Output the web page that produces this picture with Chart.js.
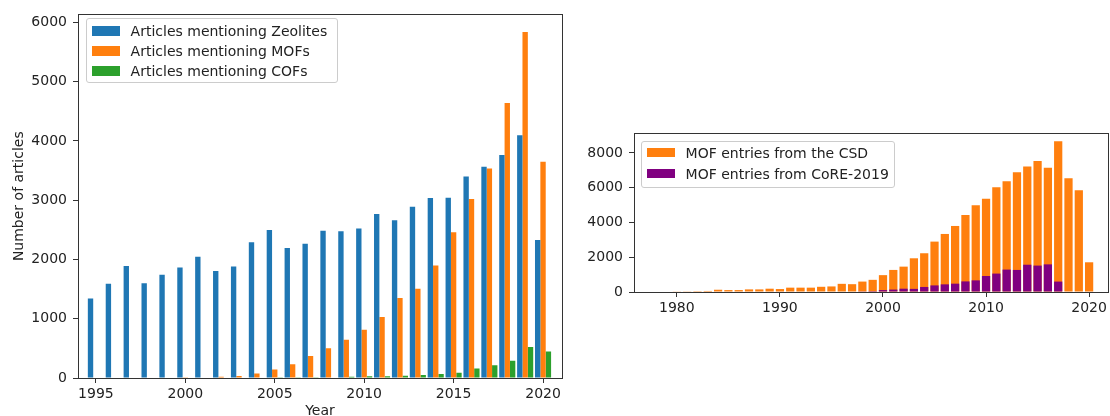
<!DOCTYPE html>
<html><head><meta charset="utf-8">
<script src="https://cdn.jsdelivr.net/npm/chart.js@4.4.1/dist/chart.umd.min.js"></script>
<style>
html,body{margin:0;padding:0;background:#fff;overflow:hidden;width:1110px;height:416px;}
#c1{position:absolute;left:0;top:0;}
#c2{position:absolute;left:580px;top:100px;}
.legend{position:absolute;background:rgba(255,255,255,0.8);border:1px solid #cccccc;border-radius:3px;font-family:"DejaVu Sans";font-size:14px;color:#222;box-sizing:border-box;padding-left:4.6px;}
.legend .row{display:flex;align-items:center;white-space:nowrap;}
.legend .patch{display:inline-block;width:28px;height:9.5px;margin-right:11px;flex:none;}
</style></head>
<body>
<canvas id="c1" width="580" height="424"></canvas>
<canvas id="c2" width="530" height="230"></canvas>
<div id="leg1" class="legend" style="left:86px;top:18px;width:252px;height:65px;padding-top:2px;"></div>
<div id="leg2" class="legend" style="left:641px;top:141px;width:254px;height:47px;padding-top:0px;"></div>
<script>
// ---- Left chart data ----
const years = [1995,1996,1997,1998,1999,2000,2001,2002,2003,2004,2005,2006,2007,2008,2009,2010,2011,2012,2013,2014,2015,2016,2017,2018,2019,2020];
const zeolites = [1340,1590,1890,1600,1740,1865,2045,1805,1880,2290,2495,2195,2265,2485,2475,2520,2765,2660,2890,3035,3040,3400,3565,3760,4095,2330];
const mofs = [0,0,0,10,0,5,10,20,35,75,145,230,370,500,645,812,1031,1350,1507,1899,2459,3020,3535,4639,5838,3647];
const cofs = [0,0,0,0,0,0,0,0,0,0,5,5,5,8,22,28,28,39,50,67,90,162,213,291,521,448];
const xTicksLeft = [1995,2000,2005,2010,2015,2020];
const yTicksLeft = [0,1000,2000,3000,4000,5000,6000];

// ---- Right chart data ----
const yearsR = [1980,1981,1982,1983,1984,1985,1986,1987,1988,1989,1990,1991,1992,1993,1994,1995,1996,1997,1998,1999,2000,2001,2002,2003,2004,2005,2006,2007,2008,2009,2010,2011,2012,2013,2014,2015,2016,2017,2018,2019,2020];
const csd = [20,40,50,60,130,110,110,150,150,190,170,250,250,250,300,320,470,450,600,700,970,1270,1460,1940,2230,2900,3340,3800,4430,4990,5370,6030,6370,6890,7220,7540,7150,8680,6550,5860,1710];
const core = [0,0,0,0,0,0,0,0,0,0,0,0,0,0,0,0,0,0,20,50,110,140,190,180,290,380,440,480,610,670,920,1060,1290,1270,1570,1520,1590,600,0,0,0];
const xTicksRight = [1980,1990,2000,2010,2020];
const yTicksRight = [0,2000,4000,6000,8000];

const FONT = {family:'"DejaVu Sans"', size:14};
const TXT = '#222';
const AX = '#333';

const htmlLegend = {
  id: 'htmlLegend',
  afterUpdate(chart, args, opts) {
    const box = document.getElementById(opts.containerID);
    box.innerHTML = '';
    const items = Chart.defaults.plugins.legend.labels.generateLabels(chart)
      .sort((a,b) => a.datasetIndex - b.datasetIndex);
    items.forEach(it => {
      const row = document.createElement('div');
      row.className = 'row';
      row.style.height = opts.rowHeight + 'px';
      const p = document.createElement('span');
      p.className = 'patch';
      p.style.background = it.fillStyle;
      const t = document.createElement('span');
      t.textContent = it.text;
      row.appendChild(p); row.appendChild(t);
      box.appendChild(row);
    });
  }
};

function pts(xs, ys){ return xs.map((x,i)=>({x:x, y:ys[i]})); }
function setTicks(arr){ return s => { s.ticks = arr.map(v=>({value:v})); }; }

function frameAxis(pos){
  const horiz = (pos === 'top');
  return {
    type:'linear', position:pos, display:true, min:0, max:1,
    grid:{display:false}, ticks:{display:false},
    border:{display:true, color:AX, width:1},
    afterFit: s => { if (horiz) s.height = 0; else s.width = 0; }
  };
}

new Chart(document.getElementById('c1'), {
  type:'bar',
  data:{ datasets:[
    {label:'Articles mentioning Zeolites', data:pts(years, zeolites), backgroundColor:'#1f77b4', borderWidth:0},
    {label:'Articles mentioning MOFs', data:pts(years, mofs), backgroundColor:'#ff7f0e', borderWidth:0},
    {label:'Articles mentioning COFs', data:pts(years, cofs), backgroundColor:'#2ca02c', borderWidth:0}
  ]},
  plugins:[htmlLegend],
  options:{
    responsive:false, animation:false, devicePixelRatio:1,
    layout:{padding:{left:0, top:13, right:18, bottom:0}},
    datasets:{bar:{categoryPercentage:0.9, barPercentage:1.0}},
    plugins:{legend:{display:false}, tooltip:{enabled:false}, htmlLegend:{containerID:'leg1', rowHeight:20}},
    scales:{
      x:{type:'linear', min:1994.0, max:2021.06, offset:false,
         afterBuildTicks:setTicks(xTicksLeft), afterFit:s=>{s.height=46;},
         grid:{display:true, drawOnChartArea:false, drawTicks:true, tickLength:5, tickColor:AX, offset:false},
         border:{display:true, color:AX, width:1},
         ticks:{font:FONT, color:TXT, padding:3, maxRotation:0, autoSkip:false, callback:v=>String(v)},
         title:{display:true, text:'Year', font:FONT, color:TXT, padding:{top:0, bottom:4.6}}},
      y:{type:'linear', min:0, max:6134,
         afterBuildTicks:setTicks(yTicksLeft), afterFit:s=>{s.width=78;},
         grid:{display:true, drawOnChartArea:false, drawTicks:true, tickLength:5, tickColor:AX},
         border:{display:true, color:AX, width:1},
         ticks:{font:FONT, color:TXT, padding:6, callback:v=>String(v)},
         title:{display:true, text:'Number of articles', font:FONT, color:TXT, padding:{top:10.8, bottom:0}}},
      x2:frameAxis('top'),
      y2:frameAxis('right')
    }
  }
});

new Chart(document.getElementById('c2'), {
  type:'bar',
  data:{ datasets:[
    {label:'MOF entries from the CSD', data:pts(yearsR, csd), backgroundColor:'#ff7f0e', borderWidth:0, order:1},
    {label:'MOF entries from CoRE-2019', data:pts(yearsR, core), backgroundColor:'#800080', borderWidth:0, order:0}
  ]},
  plugins:[htmlLegend],
  options:{
    responsive:false, animation:false, devicePixelRatio:1,
    layout:{padding:{left:0, top:33, right:1, bottom:0}},
    datasets:{bar:{categoryPercentage:1.0, barPercentage:0.8}},
    plugins:{legend:{display:false}, tooltip:{enabled:false}, htmlLegend:{containerID:'leg2', rowHeight:21}},
    scales:{
      x:{type:'linear', stacked:true, min:1975.84, max:2021.84, offset:false,
         afterBuildTicks:setTicks(xTicksRight), afterFit:s=>{s.height=38;},
         grid:{display:true, drawOnChartArea:false, drawTicks:true, tickLength:5, tickColor:AX, offset:false},
         border:{display:true, color:AX, width:1},
         ticks:{font:FONT, color:TXT, padding:3, maxRotation:0, autoSkip:false, callback:v=>String(v)}},
      y:{type:'linear', stacked:false, min:0, max:9150,
         afterBuildTicks:setTicks(yTicksRight), afterFit:s=>{s.width=54;},
         grid:{display:true, drawOnChartArea:false, drawTicks:true, tickLength:5, tickColor:AX},
         border:{display:true, color:AX, width:1},
         ticks:{font:FONT, color:TXT, padding:6, callback:v=>String(v)}},
      x2:frameAxis('top'),
      y2:frameAxis('right')
    }
  }
});
</script>
</body></html>
